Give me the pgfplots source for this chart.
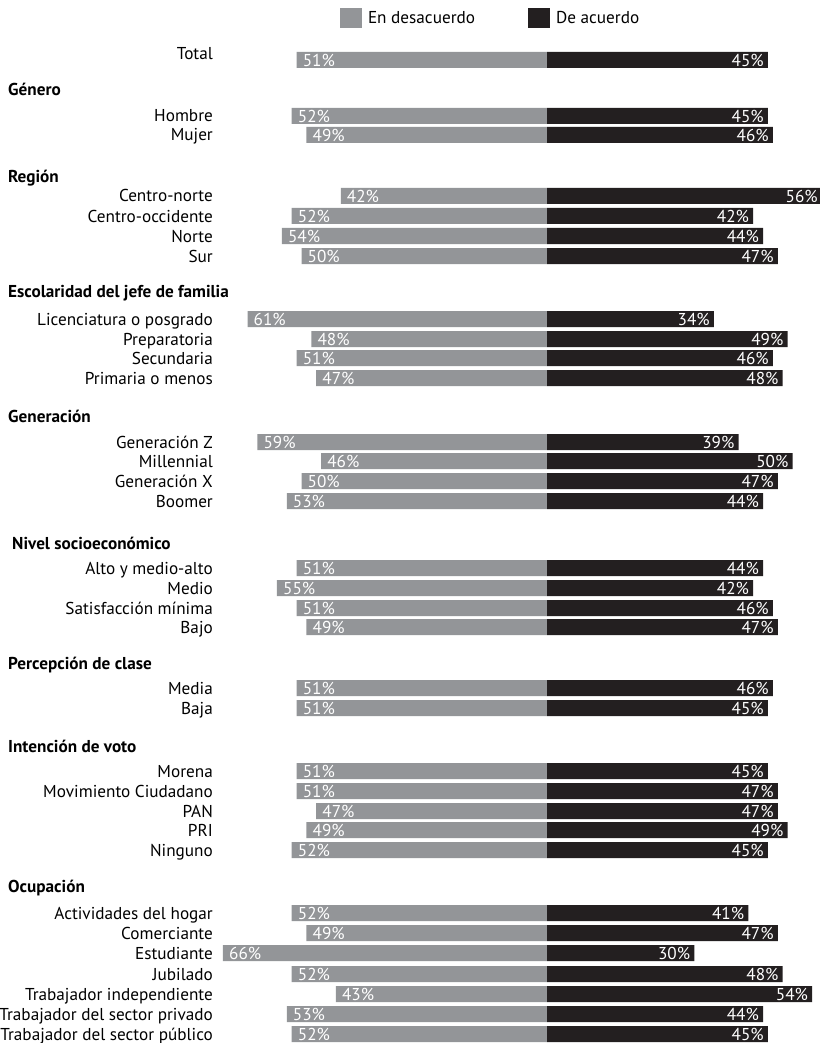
\documentclass[border=0pt]{standalone}
\usepackage{fontspec}
\setmainfont{PT Sans}
\usepackage{pgfplots}
\usepackage{pgfplotstable}
\pgfplotsset{compat=1.18}

\definecolor{cDis}{HTML}{939598}
\definecolor{cAgr}{HTML}{231F20}
\newcommand{\f}{\fontsize{17.2bp}{20bp}\selectfont}

% y: bar centre (px from top), ly: label baseline
\pgfplotstableread{
y    ly    dis agr cat
60   60    51  45  Total
116  122   52  45  Hombre
135  141   49  46  Mujer
196  202   42  56  Centro-norte
216  222   52  42  Centro-occidente
236  242   54  44  Norte
256  262   50  47  Sur
319  325   61  34  {Licenciatura o posgrado}
339  345   48  49  Preparatoria
358  364   51  46  Secundaria
378  384   47  48  {Primaria o menos}
442  448   59  39  {Generación Z}
461  467   46  50  Millennial
481  487   50  47  {Generación X}
501  507   53  44  Boomer
568  574   51  44  {Alto y medio-alto}
588  594   55  42  Medio
608  614   51  46  {Satisfacción mínima}
627  633   49  47  Bajo
688  694   51  46  Media
708  714   51  45  Baja
771  777   51  45  Morena
791  797   51  47  {Movimiento Ciudadano}
811  817   47  47  PAN
830  836   49  49  PRI
850  856   52  45  Ninguno
913  919   52  41  {Actividades del hogar}
933  939   49  47  Comerciante
953  959   66  30  Estudiante
974  980   52  48  Jubilado
994  1000  43  54  {Trabajador independiente}
1014 1020  53  44  {Trabajador del sector privado}
1034 1040  52  45  {Trabajador del sector público}
}\data

\begin{document}
\begin{tikzpicture}
\begin{axis}[
    scale only axis,
    width=820bp, height=1043bp,
    hide axis, clip=false,
    xmin=-111.41, xmax=55.60,
    ymin=0, ymax=1043, y dir=reverse,
    legend cell align=left,
    legend columns=2,
    legend style={at={(axis cs:-42.16,8)}, anchor=north west,
        draw=none, fill=none, inner sep=0pt, outer sep=0pt, font=\f,
        nodes={inner sep=0pt},
        /tikz/every odd column/.style={column sep=6bp},
        /tikz/every even column/.style={column sep=53bp}},
]
\addplot[xbar, bar shift=0pt, bar width=16, fill=cDis, draw=none,
    legend image code/.code={\fill[cDis] (0bp,-10bp) rectangle (22bp,10bp);},
    point meta=explicit symbolic,
    nodes near coords={\pgfplotspointmeta\%},
    nodes near coords style={anchor=west, xshift=6bp, inner sep=0pt, text=white, font=\f}]
    table[x expr=-\thisrow{dis}, y=y, meta=dis] {\data};
\addplot[xbar, bar shift=0pt, bar width=16, fill=cAgr, draw=none,
    legend image code/.code={\fill[cAgr] (0bp,-10bp) rectangle (22bp,10bp);},
    point meta=explicit symbolic,
    nodes near coords={\pgfplotspointmeta\%},
    nodes near coords style={anchor=east, xshift=-4bp, inner sep=0pt, text=white, font=\f}]
    table[x=agr, y=y, meta=agr] {\data};
\legend{En desacuerdo, De acuerdo}

% category names
\addplot[draw=none, mark=none, forget plot,
    point meta=explicit symbolic,
    nodes near coords={\pgfplotspointmeta},
    nodes near coords style={anchor=base east, inner sep=0pt, text=black, font=\f}]
    table[x expr=-68.02, y=ly, meta=cat] {\data};

% group headings
\begin{scope}[every node/.style={anchor=base west, inner sep=0pt, font=\f\bfseries}]
\node at (axis cs:-109.78,96)  {Género};
\node at (axis cs:-109.78,183) {Región};
\node at (axis cs:-109.78,297) {Escolaridad del jefe de familia};
\node at (axis cs:-109.78,422) {Generación};
\node at (axis cs:-108.96,549) {Nivel socioeconómico};
\node at (axis cs:-109.78,669) {Percepción de clase};
\node at (axis cs:-109.78,752) {Intención de voto};
\node at (axis cs:-109.78,892) {Ocupación};
\end{scope}
\end{axis}
\pgfresetboundingbox
\path (0,0) rectangle (820bp,1043bp);
\end{tikzpicture}
\end{document}
